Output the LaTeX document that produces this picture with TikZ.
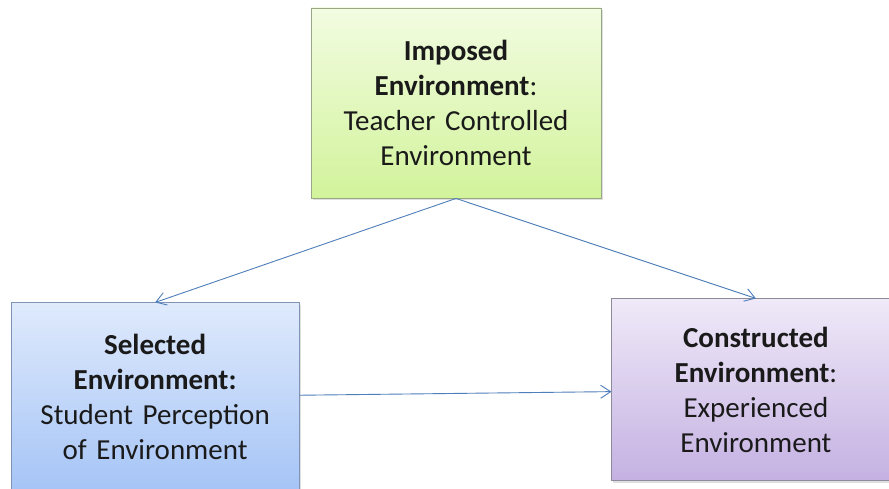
\documentclass[tikz,border=0pt]{standalone}
\usepackage{fontspec}
\setmainfont{Carlito}
\usetikzlibrary{arrows.meta,positioning,shadows}
\definecolor{ink}{HTML}{4F7FBA}
\definecolor{greentop}{HTML}{F2FCE1}
\definecolor{greenbot}{HTML}{D2F39B}
\definecolor{greenline}{HTML}{98A884}
\definecolor{bluetop}{HTML}{DFEAFC}
\definecolor{bluebot}{HTML}{A5C4F6}
\definecolor{blueline}{HTML}{7F93B5}
\definecolor{violettop}{HTML}{EFE9F8}
\definecolor{violetbot}{HTML}{C4B1E2}
\definecolor{violetline}{HTML}{8E8A9C}
\definecolor{txt}{HTML}{1A1A1A}
\tikzset{box/.style={align=center,inner sep=0pt,text width=288pt,text=txt,font=\fontsize{29}{35}\selectfont,line width=0.9pt,drop shadow={shadow xshift=1.5pt,shadow yshift=-2pt,opacity=0.25}},arr/.style={-{Straight Barb[length=10pt,width=13pt,line width=0.9pt]},line width=0.9pt,draw=ink}}

\begin{document}
\begin{tikzpicture}
\useasboundingbox[fill=white] (0,0) rectangle (889pt,489pt);
\node[box,draw=greenline,top color=greentop,bottom color=greenbot,text width=290pt,minimum height=190pt] (imp) at (456pt,386pt) {\textbf{Imposed}\\\textbf{Environment}:\\Teacher Controlled\\Environment};
\node[box,draw=blueline,top color=bluetop,bottom color=bluebot,minimum height=188pt,below left=104pt and 11pt of imp] (sel) {\textbf{Selected}\\\textbf{Environment:}\\Student Perception\\of Environment};
\node[box,draw=violetline,top color=violettop,bottom color=violetbot,text width=300pt,minimum height=182pt,below right=100pt and 10pt of imp] (con) {\hspace*{-12pt}\textbf{Constructed}\\\hspace*{-12pt}\textbf{Environment}:\\\hspace*{-12pt}Experienced\\\hspace*{-12pt}Environment};
\draw[arr] (imp.south)--(sel.north);\draw[arr] (imp.south)--([xshift=-6pt]con.north);
\draw[arr] (sel)--(con);
\end{tikzpicture}
\end{document}
